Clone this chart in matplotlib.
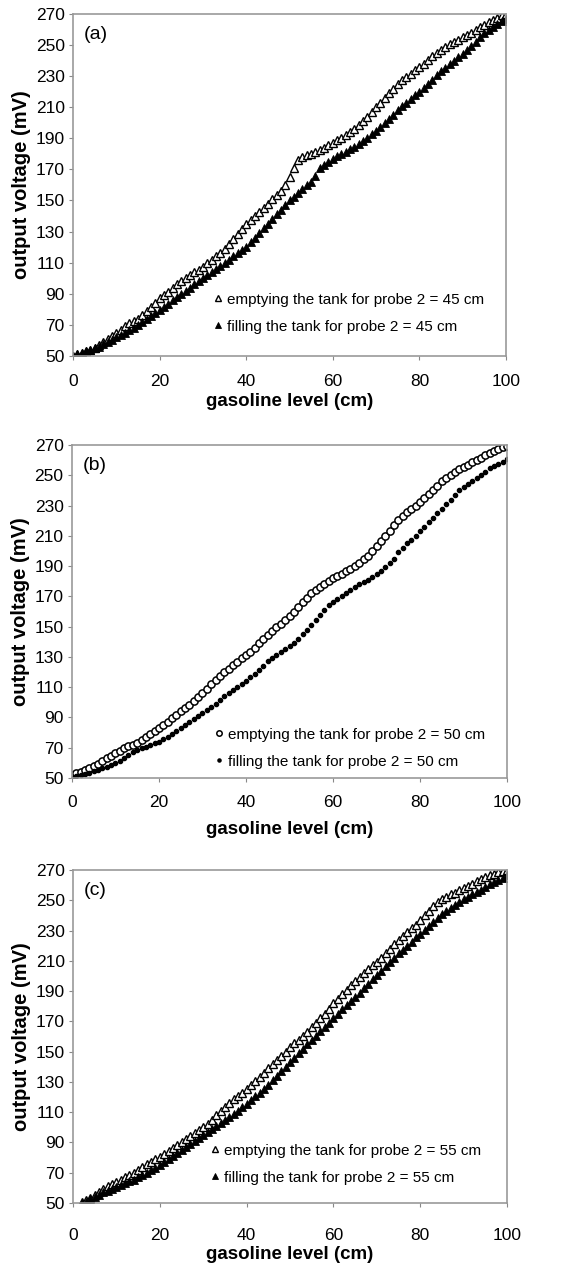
import numpy as np
import matplotlib.pyplot as plt

plt.rcParams['font.family'] = ['Liberation Sans', 'DejaVu Sans']

# ---- data (gasoline level in cm, output voltage in mV) ----
level_ab = list(range(0, 101))
level_c = list(range(2, 101))

empty_a = [50, 51, 52, 53, 54, 55,
           57, 59, 61, 63, 65,
           67, 69, 71, 72.5, 74,
           76.5, 79, 81.5, 84, 87,
           89, 91, 93.5, 96, 98,
           100, 102, 104, 105.5, 107.5,
           110, 112, 114, 116.5, 119,
           122, 125, 128.5, 131.5, 135,
           137.5, 140, 142.5, 145, 148,
           151, 153.5, 156, 160, 165,
           171, 176, 178, 179, 180,
           181.5, 182.5, 184, 185.5, 187,
           189, 190.5, 192, 194, 196,
           198.5, 201, 204, 207, 210,
           213, 216, 219, 222, 225,
           227.5, 229.5, 231.5, 234, 236,
           238, 240.5, 243, 245, 247,
           249, 250.5, 252, 253.5, 255,
           256.5, 258, 259.5, 261.5, 263,
           264.5, 266, 267.5, 269, 270]
fill_a = [50, 51, 52, 53, 54, 55,
          56, 57.5, 59, 60.5, 62,
          63.5, 65, 66.5, 68, 70,
          72, 74, 75.5, 77.5, 79.5,
          81.5, 83.5, 86, 88, 90,
          92, 94, 96, 98, 100,
          102, 104, 106, 108, 110,
          112, 114, 116, 118, 120,
          123, 126, 129, 132, 135,
          138, 141, 144, 147, 150,
          152.5, 155, 157.5, 160, 162,
          166, 171, 173, 175, 177,
          178.5, 180, 181.5, 183, 184.5,
          186.5, 188.5, 190.5, 193, 195,
          197.5, 200, 202.5, 205, 208,
          210.5, 213, 215.5, 218, 220,
          222.5, 225, 227.5, 230.5, 233,
          235.5, 238, 240, 242.5, 244.5,
          247, 249.5, 252, 255, 257.5,
          259.5, 261.5, 263.5, 265.5, 267]

empty_b = [52, 53, 54, 55, 56.5, 58,
           59.5, 61, 63, 64.5, 66.5,
           68, 69.5, 71, 72, 73,
           75, 77, 79, 81, 83,
           85, 87, 89.5, 91.5, 94,
           96, 98.5, 101, 103.5, 106,
           109, 112, 114.5, 117.5, 120,
           122, 124.5, 126.5, 129, 131,
           133.5, 136, 139, 142, 144.5,
           147, 149.5, 152, 154.5, 157,
           160, 163, 166, 169, 172,
           174, 176.5, 178.5, 180, 182,
           183.5, 185, 186.5, 188, 190,
           192, 194.5, 197, 200, 203,
           206.5, 210, 213.5, 217, 220.5,
           223, 225.5, 228, 230, 232.5,
           235, 237.5, 240.5, 243, 246,
           248.5, 250.5, 252.5, 254, 255.5,
           257, 258.5, 260, 261.5, 263.5,
           265, 266, 267.5, 268.5, 269.5]
fill_b = [50, 51, 52, 52.5, 53.5, 54.5,
          55.5, 56.5, 57.5, 58.5, 60,
          61.5, 63, 65, 67, 68.5,
          69.5, 70.5, 71.5, 73, 74,
          75.5, 77, 79, 81, 83,
          85, 87, 89, 91, 93,
          95, 97, 99, 101.5, 104,
          106, 108, 110, 112, 114,
          116.5, 119, 121.5, 124, 127,
          129, 131, 133, 135, 137,
          139.5, 142, 145, 148, 151,
          154.5, 158, 161, 164, 166.5,
          168.5, 170.5, 172.5, 174.5, 176.5,
          178, 179.5, 181, 183, 185,
          187, 189.5, 192, 195, 199.5,
          202, 205, 207.5, 210, 213,
          216, 219, 222, 225, 228,
          231, 234, 237, 240, 242.5,
          244.5, 246.5, 248.5, 250.5, 252.5,
          254.5, 256, 257.5, 259, 261]

empty_c = [50.5, 52, 53.5, 55,
           57, 59, 61, 62.5, 64,
           65.5, 67, 68.5, 70, 71.5,
           73.5, 75.5, 77, 79, 80.5,
           82.5, 84.5, 86.5, 88.5, 90.5,
           92.5, 94.5, 96.5, 98, 100,
           102.5, 105, 108, 110.5, 113.5,
           116, 118.5, 121, 123, 125.5,
           128, 130.5, 133, 136, 139,
           142, 144.5, 147, 150, 153,
           155.5, 158, 160.5, 163, 166,
           169, 172, 175, 178.5, 182,
           185, 188, 191, 194, 197,
           199.5, 202, 204.5, 207, 209,
           212, 215, 218, 221, 224,
           226.5, 229, 231.5, 234, 237,
           240, 243, 246, 249, 251,
           252.5, 254, 255, 256.5, 258,
           259.5, 261, 262.5, 264, 265.5,
           266.5, 267.5, 268.5, 269.5, 270]
fill_c = [50, 51, 52.5, 54,
          55.5, 57, 58, 59.5, 60.5,
          62, 63, 64.5, 65.5, 67,
          68.5, 70, 71.5, 73, 75,
          77, 79, 81, 83, 85,
          87, 89, 91, 93, 95,
          97, 99, 101, 103, 105,
          107, 109, 111, 113.5, 115.5,
          118, 120.5, 123, 125.5, 128,
          131, 134, 137, 140, 143,
          146, 149, 152, 155, 157.5,
          160.5, 163.5, 166.5, 169, 172,
          175, 178, 181, 183.5, 186,
          189, 192, 195, 198, 200.5,
          203.5, 206.5, 209.5, 212, 215,
          217.5, 220, 222.5, 225.5, 228,
          230.5, 233, 235.5, 238.5, 241,
          243, 245, 247, 249, 251,
          252.5, 254, 255.5, 257, 259,
          260.5, 262, 263.5, 265, 266.5]

panel_tags = ['(a)', '(b)', '(c)']
probe_cm = [45, 50, 55]
xticks = [0, 20, 40, 60, 80, 100]
yticks = list(range(50, 271, 20))

fig = plt.figure(figsize=(5.66, 12.65), dpi=100)
# axes rectangles in figure fractions (left, bottom, width, height)
rects = [(0.129, 0.7186, 0.765, 0.2704),
         (0.127, 0.385, 0.769, 0.2632),
         (0.129, 0.049, 0.767, 0.2632)]
# where each legend sits (axes fraction), and x tick / label spacing per panel
legend_spots = [(0.295, 0.025), (0.298, -0.013), (0.287, 0.014)]
xtick_pads = [10, 9, 15]
xlabel_pads = [3, 8, 2]

series = [(level_ab, empty_a, fill_a, '^'),
          (level_ab, empty_b, fill_b, 'o'),
          (level_c, empty_c, fill_c, '^')]

for i, (rect, (xs, ye, yf, mk)) in enumerate(zip(rects, series)):
    ax = fig.add_axes(rect)
    lab_e = f'emptying the tank for probe 2 = {probe_cm[i]} cm'
    lab_f = f'filling the tank for probe 2 = {probe_cm[i]} cm'
    if mk == 'o':
        ax.plot(xs, ye, ls='none', marker='o', ms=5.2, mfc='white', mec='black', mew=1.1,
                label=lab_e)
        ax.plot(xs, yf, ls='none', marker='o', ms=3, mfc='black', mec='black', label=lab_f)
    else:
        ax.plot(xs, ye, ls='none', marker='^', ms=5.6, mfc='white', mec='black', mew=1.0,
                label=lab_e)
        ax.plot(xs, yf, ls='none', marker='^', ms=5.2, mfc='black', mec='black', mew=0.6,
                label=lab_f)

    ax.set_xlim(0, 100)
    ax.set_ylim(50, 270)
    ax.set_xticks(xticks)
    ax.set_yticks(yticks)
    ax.tick_params(axis='both', labelsize=12.5, length=3, color='#888888')
    ax.tick_params(axis='x', pad=xtick_pads[i])
    ax.tick_params(axis='y', pad=3)
    for sp in ax.spines.values():
        sp.set_color('#999999')
        sp.set_linewidth(1.2)
    ax.set_xlabel('gasoline level (cm)', fontsize=13.5, fontweight='bold',
                  labelpad=xlabel_pads[i])
    ax.set_ylabel('output voltage (mV)', fontsize=14.5, fontweight='bold', labelpad=3)
    ax.text(0.025, 0.94, panel_tags[i], transform=ax.transAxes, fontsize=14,
            ha='left', va='center')
    ax.legend(loc='lower left', bbox_to_anchor=legend_spots[i], frameon=False,
              fontsize=11, handlelength=0.5, handletextpad=0.3,
              labelspacing=0.85, markerscale=0.75)

fig.savefig('out.png', dpi=100)
